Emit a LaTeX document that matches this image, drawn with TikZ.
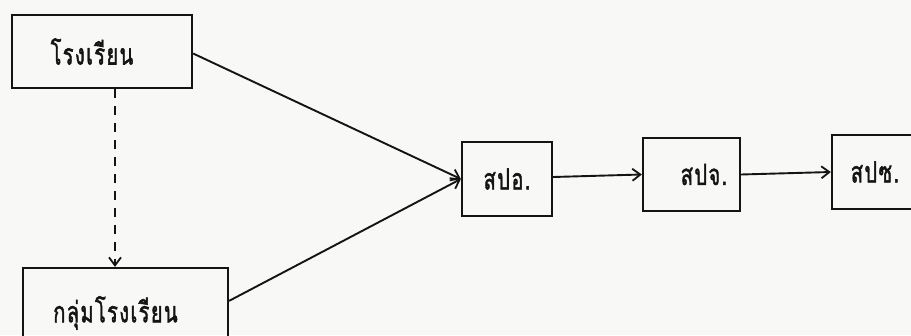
\documentclass[tikz,border=0pt]{standalone}
\usepackage{fontspec}
\usepackage{graphicx}
\newfontfamily\thaifont[Script=Thai,LetterSpace=7,FakeBold=2]{Loma}
\usetikzlibrary{arrows.meta}
\definecolor{paper}{RGB}{248,248,246}
\definecolor{ink}{RGB}{20,20,20}
\newcommand{\tall}[1]{\scalebox{1}[1.45]{#1}}
\begin{document}
\begin{tikzpicture}[x=1pt,y=-1pt,
  box/.style={draw=ink,line width=2.3pt,inner sep=0pt,font=\thaifont\fontsize{20}{24}\selectfont,text=ink},
  link/.style={draw=ink,line width=1.9pt,-{Straight Barb[length=8pt,width=12pt,line width=1.8pt]}}]
  \fill[paper] (0,0) rectangle (911,335);
  \useasboundingbox (0,0) rectangle (911,335);
  \begin{scope}
    \clip (0,0) rectangle (911,335);
    % organisation boxes
    \node[box,minimum width=180pt,minimum height=73pt] (school) at (102,51.5) {\hspace*{-20pt}\tall{โรงเรียน}};
    \node[box,minimum width=205pt,minimum height=90pt] (group) at (125.5,313) {\hspace*{-20pt}\tall{กลุ่มโรงเรียน}};
    \node[box,minimum width=90pt,minimum height=74pt] (spo) at (507,179) {\tall{สปอ.}};
    \node[box,minimum width=97pt,minimum height=73pt] (spj) at (691.5,174.5) {\hspace*{25pt}\tall{สปจ.}};
    \node[box,minimum width=86pt,minimum height=74pt] (sps) at (875,172) {\tall{สปซ.}};
    % connectors
    \coordinate (dx) at (115,0);
    \draw[link,dash pattern=on 9pt off 8pt] (school.south -| dx) -- (group.north -| dx);
    \draw[link] ([yshift=-2pt]school.east) -- (spo.west);
    \draw[link] ([yshift=-34pt]group.north east) -- (spo.west);
    \draw[link] ([yshift=2pt]spo.east) -- (spj.west);
    \draw[link] (spj.east) -- (sps.west);
  \end{scope}
\end{tikzpicture}
\end{document}
